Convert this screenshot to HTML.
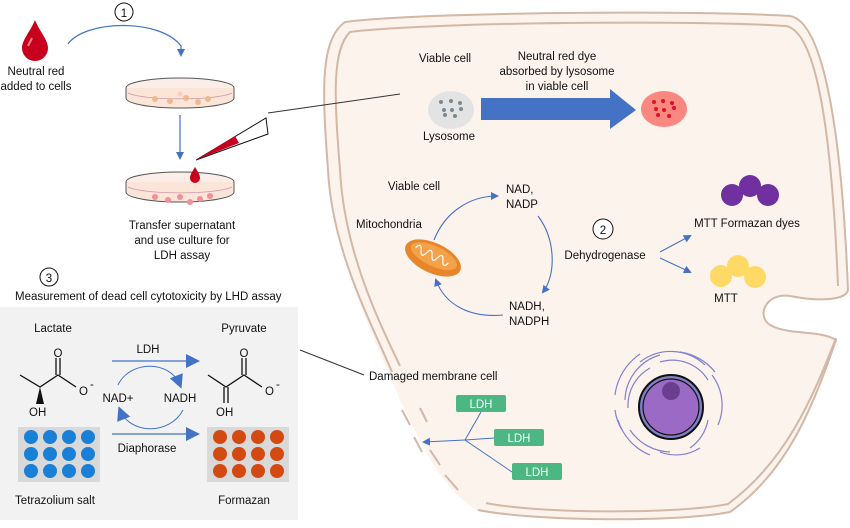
<!DOCTYPE html>
<html><head><meta charset="utf-8"><style>
html,body{margin:0;padding:0;background:#fff}
svg{display:block}
text{font-family:"Liberation Sans",sans-serif;font-size:11.5px;fill:#111}
</style></head><body>
<svg width="850" height="528" viewBox="0 0 850 528" xmlns="http://www.w3.org/2000/svg">
<defs>
<marker id="ah" markerWidth="8" markerHeight="8" refX="6" refY="4" orient="auto" markerUnits="userSpaceOnUse"><path d="M0,0 L8,4 L0,8 Z" fill="#4472c4"/></marker>
<marker id="ahb" markerWidth="14" markerHeight="14" refX="10" refY="7" orient="auto" markerUnits="userSpaceOnUse"><path d="M0,0 L14,7 L0,14 Z" fill="#4472c4"/></marker>
</defs>
<!-- cell fill -->
<path d="M345,22 C420,12 700,10 790,16 C825,22 842,140 848,290 C846,300 820,302 790,296 C765,292 755,318 772,326 C790,335 820,330 836,340 C815,400 790,470 730,512 C680,522 540,522 480,512 C440,490 420,440 400,400 C375,340 335,260 328,170 C322,90 320,40 345,22 Z" fill="#fcf3ed"/>
<!-- outer outline with gap -->
<path d="M392,372 C370,320 332,250 328,170 C322,90 320,40 345,22 C420,12 700,10 790,16 C825,22 842,140 848,290 C846,300 820,302 790,296 C765,292 755,318 772,326 C790,335 820,330 836,340 C815,400 790,470 730,512 C680,522 540,522 478,510" fill="none" stroke="#d2b8a6" stroke-width="2"/>
<path d="M400,366 C378,320 344,250 340,170 C334,95 332,50 350,32 C430,22 700,20 786,26 C818,32 832,140 838,286 M836,338 C812,400 785,462 728,504 C680,514 540,514 486,503" fill="none" stroke="#d2b8a6" stroke-width="2"/>
<path d="M402,410 L410,425 M414,437 L422,452 M420,408 L427,422 M430,450 L440,465 M445,475 L458,490" stroke="#d2b8a6" stroke-width="2"/>
<!-- neutral red drop -->
<path d="M35,20 C30,32 22,40 22,48 A13,13 0 0 0 48,48 C48,40 40,32 35,20 Z" fill="#c8001e"/>
<path d="M32,38 L28,46" stroke="#f08090" stroke-width="2"/>
<text x="36" y="75" text-anchor="middle">Neutral red</text>
<text x="36" y="90" text-anchor="middle">added to cells</text>
<circle cx="124" cy="12" r="9" fill="#fff" stroke="#111"/>
<text x="124" y="17" text-anchor="middle" font-size="13">1</text>
<path d="M68,44 C85,20 160,18 181,46 L181,55" fill="none" stroke="#4472c4" stroke-width="1.2" marker-end="url(#ah)"/>
<!-- dishes -->
<g>
<ellipse cx="180" cy="88" rx="54" ry="10" fill="#fbeee8" stroke="#555" stroke-width="1"/>
<path d="M126,88 L126,98 A54,10 0 0 0 234,98 L234,88" fill="#fbe4d8" stroke="#555"/>
<path d="M128,93 A54,8 0 0 0 232,93" fill="none" stroke="#c9a" stroke-width="0.8"/>
<circle cx="155" cy="99" r="3" fill="#f0b890"/><circle cx="170" cy="101" r="3" fill="#f0b890"/><circle cx="186" cy="98" r="3" fill="#f0b890"/><circle cx="198" cy="102" r="3" fill="#f0b890"/><circle cx="208" cy="99" r="3" fill="#f0b890"/><circle cx="180" cy="94" r="2.5" fill="#f8d0b8"/>
</g>
<path d="M180,115 L180,158" stroke="#4472c4" stroke-width="1.2" marker-end="url(#ah)"/>
<g>
<ellipse cx="180" cy="182" rx="54" ry="10" fill="#fbeee8" stroke="#555"/>
<path d="M126,182 L126,192 A54,10 0 0 0 234,192 L234,182" fill="#fbe4d8" stroke="#555"/>
<path d="M128,187 A54,8 0 0 0 232,187" fill="none" stroke="#c9a" stroke-width="0.8"/>
<circle cx="155" cy="197" r="3" fill="#f0909a"/><circle cx="168" cy="200" r="3" fill="#f0909a"/><circle cx="180" cy="197" r="3" fill="#f0909a"/><circle cx="190" cy="202" r="3" fill="#f0909a"/><circle cx="200" cy="199" r="3" fill="#f0909a"/><circle cx="210" cy="196" r="3" fill="#f0909a"/>
</g>
<path d="M196,160 L266,118 L268,134 Z" fill="#fff" stroke="#111"/>
<path d="M196,160 L235,136 L239,143 Z" fill="#c8001e"/>
<path d="M195,167 C192,172 190,175 190,178 A5,5 0 0 0 200,178 C200,175 198,172 195,167 Z" fill="#c8001e"/>
<text x="182" y="229" text-anchor="middle">Transfer supernatant</text>
<text x="182" y="244" text-anchor="middle">and use culture for</text>
<text x="182" y="259" text-anchor="middle">LDH assay</text>
<line x1="268" y1="113" x2="400" y2="94" stroke="#333"/>
<line x1="300" y1="350" x2="364" y2="375" stroke="#333"/>
<!-- section 3 -->
<circle cx="49" cy="277" r="9" fill="#fff" stroke="#111"/>
<text x="49" y="282" text-anchor="middle" font-size="13">3</text>
<text x="15" y="300">Measurement of dead cell cytotoxicity by LHD assay</text>
<rect x="0" y="307" width="298" height="213" fill="#f2f2f2"/>
<text x="53" y="332" text-anchor="middle">Lactate</text>
<text x="244" y="332" text-anchor="middle">Pyruvate</text>
<g stroke="#111" stroke-width="1.3" fill="none">
<path d="M20,375 L40,387 L58,375 L76,387"/><path d="M56,375 L56,358 M60,375 L60,358"/>
<path d="M208,375 L226,387 L244,375 L262,387"/><path d="M242,375 L242,358 M246,375 L246,358"/><path d="M224,387 L224,403 M228,387 L228,403"/>
</g>
<path d="M40,387 L36,404 L44,404 Z" fill="#111"/>
<text x="58" y="357" text-anchor="middle" font-size="13">O</text>
<text x="79" y="395" font-size="13">O</text><text x="90" y="388" font-size="9">-</text>
<text x="29" y="416" font-size="13">OH</text>
<text x="244" y="357" text-anchor="middle" font-size="13">O</text>
<text x="265" y="395" font-size="13">O</text><text x="276" y="388" font-size="9">-</text>
<text x="216" y="416" font-size="13">OH</text>
<text x="148" y="353" text-anchor="middle">LDH</text>
<line x1="112" y1="361" x2="196" y2="361" stroke="#4472c4" stroke-width="1.2" marker-end="url(#ahb)"/>
<line x1="112" y1="434" x2="196" y2="434" stroke="#4472c4" stroke-width="1.2" marker-end="url(#ahb)"/>
<path d="M118,385 C130,360 170,360 180,385" fill="none" stroke="#4472c4" marker-end="url(#ahb)"/>
<path d="M183,410 C170,435 130,435 120,410" fill="none" stroke="#4472c4" marker-end="url(#ahb)"/>
<text x="118" y="402" text-anchor="middle">NAD+</text>
<text x="180" y="402" text-anchor="middle">NADH</text>
<text x="147" y="452" text-anchor="middle">Diaphorase</text>
<rect x="18" y="427" width="82" height="55" fill="#d9d9d9"/>
<rect x="207" y="427" width="82" height="55" fill="#d9d9d9"/>
<g fill="#1a7fd6">
<circle cx="31" cy="437" r="7"/><circle cx="50" cy="437" r="7"/><circle cx="69" cy="437" r="7"/><circle cx="88" cy="437" r="7"/>
<circle cx="31" cy="454" r="7"/><circle cx="50" cy="454" r="7"/><circle cx="69" cy="454" r="7"/><circle cx="88" cy="454" r="7"/>
<circle cx="31" cy="471" r="7"/><circle cx="50" cy="471" r="7"/><circle cx="69" cy="471" r="7"/><circle cx="88" cy="471" r="7"/>
</g>
<g fill="#d24a12">
<circle cx="220" cy="437" r="7"/><circle cx="239" cy="437" r="7"/><circle cx="258" cy="437" r="7"/><circle cx="277" cy="437" r="7"/>
<circle cx="220" cy="454" r="7"/><circle cx="239" cy="454" r="7"/><circle cx="258" cy="454" r="7"/><circle cx="277" cy="454" r="7"/>
<circle cx="220" cy="471" r="7"/><circle cx="239" cy="471" r="7"/><circle cx="258" cy="471" r="7"/><circle cx="277" cy="471" r="7"/>
</g>
<text x="55" y="504" text-anchor="middle">Tetrazolium salt</text>
<text x="244" y="504" text-anchor="middle">Formazan</text>
<!-- lysosome section -->
<text x="445" y="62" text-anchor="middle">Viable cell</text>
<text x="557" y="60" text-anchor="middle">Neutral red dye</text>
<text x="557" y="75" text-anchor="middle">absorbed by lysosome</text>
<text x="557" y="90" text-anchor="middle">in viable cell</text>
<ellipse cx="451" cy="110" rx="23" ry="19" fill="#e3e3e3"/>
<g fill="#7a8a90"><circle cx="441" cy="102" r="2"/><circle cx="451" cy="101" r="2"/><circle cx="460" cy="103" r="2"/><circle cx="444" cy="110" r="2"/><circle cx="452" cy="110" r="2"/><circle cx="461" cy="109" r="2"/><circle cx="445" cy="115" r="2"/><circle cx="455" cy="116" r="2"/></g>
<text x="449" y="140" text-anchor="middle">Lysosome</text>
<rect x="481" y="98" width="129" height="22" fill="#4472c4"/>
<path d="M610,89 L636,110 L610,129 Z" fill="#4472c4"/>
<ellipse cx="664" cy="109" rx="23" ry="18" fill="#f98880"/>
<g fill="#e0102a"><circle cx="654" cy="102" r="2"/><circle cx="663" cy="101" r="2"/><circle cx="672" cy="103" r="2"/><circle cx="656" cy="109" r="2"/><circle cx="664" cy="110" r="2"/><circle cx="674" cy="108" r="2"/><circle cx="658" cy="115" r="2"/><circle cx="669" cy="116" r="2"/></g>
<!-- mitochondria cycle -->
<text x="414" y="190" text-anchor="middle">Viable cell</text>
<text x="356" y="228">Mitochondria</text>
<text x="506" y="193">NAD,</text><text x="506" y="208">NADP</text>
<text x="509" y="310">NADH,</text><text x="509" y="325">NADPH</text>
<path d="M434,240 C445,212 470,196 497,196" fill="none" stroke="#4472c4" stroke-width="1.1" marker-end="url(#ah)"/>
<path d="M538,216 C556,240 556,275 543,292" fill="none" stroke="#4472c4" stroke-width="1.1" marker-end="url(#ah)"/>
<path d="M503,315 C470,318 445,305 436,280" fill="none" stroke="#4472c4" stroke-width="1.1" marker-end="url(#ah)"/>
<g transform="translate(433,258) rotate(25)">
<ellipse cx="0" cy="0" rx="30" ry="15" fill="#e8842a"/>
<ellipse cx="0" cy="-2" rx="25" ry="10" fill="#f4a24a"/>
<path d="M-20,-2 q3,-8 6,0 q3,8 6,0 q3,-8 6,0 q3,8 6,0 q3,-8 6,0 q3,8 6,0" fill="none" stroke="#fff" stroke-width="1.2"/>
</g>
<!-- 2 -->
<circle cx="603" cy="229" r="10" fill="#fff" stroke="#111"/>
<text x="603" y="234" text-anchor="middle" font-size="14">2</text>
<text x="605" y="259" text-anchor="middle">Dehydrogenase</text>
<line x1="660" y1="252" x2="690" y2="236" stroke="#4472c4" marker-end="url(#ah)"/>
<line x1="660" y1="258" x2="690" y2="272" stroke="#4472c4" marker-end="url(#ah)"/>
<g fill="#7030a0"><circle cx="732" cy="195" r="11"/><circle cx="750" cy="186" r="11"/><circle cx="768" cy="195" r="11"/></g>
<text x="747" y="227" text-anchor="middle">MTT Formazan dyes</text>
<g fill="#ffd966"><circle cx="721" cy="276" r="11"/><circle cx="738" cy="266" r="11"/><circle cx="755" cy="277" r="11"/></g>
<text x="726" y="302" text-anchor="middle">MTT</text>
<!-- damaged -->
<text x="369" y="380">Damaged membrane cell</text>
<rect x="456" y="395" width="50" height="17" rx="2" fill="#4cb782"/><text x="481" y="408" text-anchor="middle" style="fill:#fff">LDH</text>
<rect x="494" y="429" width="50" height="17" rx="2" fill="#4cb782"/><text x="519" y="442" text-anchor="middle" style="fill:#fff">LDH</text>
<rect x="512" y="463" width="50" height="17" rx="2" fill="#4cb782"/><text x="537" y="476" text-anchor="middle" style="fill:#fff">LDH</text>
<path d="M481,412 L465,440 M494,438 L465,440 L512,472" fill="none" stroke="#4472c4"/>
<line x1="465" y1="440" x2="424" y2="442" stroke="#4472c4" marker-end="url(#ah)"/>
<!-- nucleus -->
<g fill="none" stroke="#8080d0" stroke-width="1.2">
<path d="M625,400 A48,48 0 0 1 660,355"/><path d="M640,362 A50,50 0 0 1 705,365"/><path d="M712,375 A50,50 0 0 1 718,425"/>
<path d="M618,420 A55,55 0 0 0 650,455"/><path d="M660,452 A45,45 0 0 0 700,448"/>
<path d="M615,395 A58,58 0 0 1 640,354"/><path d="M680,352 A55,55 0 0 1 715,372"/><path d="M630,430 A50,50 0 0 0 670,452"/>
<path d="M628,408 A43,43 0 0 1 650,368"/><path d="M660,362 A42,42 0 0 1 708,380"/>
<path d="M708,420 A45,45 0 0 1 690,448"/><path d="M622,430 A52,52 0 0 1 615,410"/>
</g>
<circle cx="671" cy="407" r="32" fill="#8080c8" stroke="#111" stroke-width="2"/>
<circle cx="671" cy="407" r="28" fill="#9b6ac4" stroke="#111" stroke-width="1.2"/>
<circle cx="671" cy="391" r="9" fill="#6a3f90"/>
</svg>
</body></html>
